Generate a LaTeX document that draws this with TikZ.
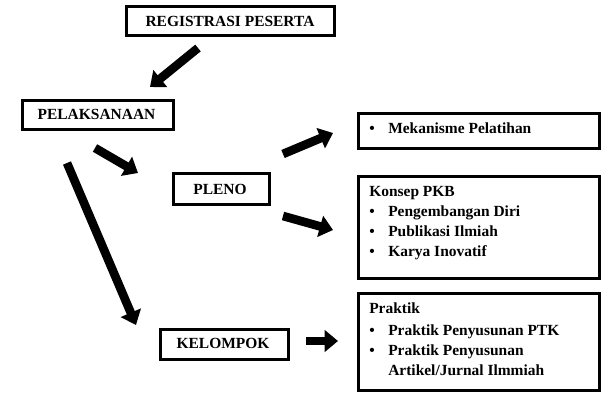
\documentclass[tikz,border=0pt]{standalone}
\usepackage{fontspec}
\setmainfont{Liberation Serif}
\usetikzlibrary{arrows.meta}
\begin{document}
\begin{tikzpicture}[x=0.75pt,y=-0.75pt,
  font=\fontsize{11.6}{14}\selectfont\bfseries,
  box/.style={draw,line width=2.2pt,inner sep=0pt,anchor=north west},
  txt/.style={anchor=base west,inner sep=0pt},
  blk/.style={line width=6.5pt,-{Triangle[width=16pt,length=10pt]}}]
\useasboundingbox (0,0) rectangle (610,402);
% boxes with labels
\node[box,minimum width=156pt,minimum height=21.75pt] (reg) at (125,5) {};
\node[anchor=base,inner sep=0pt] (regt) at (230,27) {REGISTRASI PESERTA};
\node[box,minimum width=113.25pt,minimum height=21.75pt] (pel) at (21,99) {};
\node[anchor=base,inner sep=0pt] (pelt) at (96.5,120) {PELAKSANAAN};
\node[box,minimum width=72pt,minimum height=23.25pt] (ple) at (172,172) {};
\node[anchor=base,inner sep=0pt] (plet) at (220,195) {PLENO};
\node[box,minimum width=96pt,minimum height=22.5pt] (kel) at (159,328) {};
\node[anchor=base,inner sep=0pt] (kelt) at (223,349) {KELOMPOK};
% right boxes
\node[box,minimum width=180.75pt,minimum height=26.25pt] (mek) at (357,112) {};
\node[txt] (b1) at (369,134) {•};
\node[txt] (t1) at (388,134) {Mekanisme Pelatihan};
\node[box,minimum width=180.75pt,minimum height=76.5pt] (pkb) at (357,175) {};
\node[txt] (t2) at (369,197) {Konsep PKB};
\node[txt] (b2) at (369,217) {•};
\node[txt] (t3) at (388,217) {Pengembangan Diri};
\node[txt] (b3) at (369,237) {•};
\node[txt] (t4) at (388,237) {Publikasi Ilmiah};
\node[txt] (b4) at (369,257) {•};
\node[txt] (t5) at (388,257) {Karya Inovatif};
\node[box,minimum width=180.75pt,minimum height=72.75pt] (pra) at (357,292) {};
\node[txt] (t6) at (369,314) {Praktik};
\node[txt] (b5) at (369,335) {•};
\node[txt] (t7) at (388,335) {Praktik Penyusunan PTK};
\node[txt] (b6) at (369,355) {•};
\node[txt] (t8) at (388,355) {Praktik Penyusunan};
\node[txt] (t9) at (388,375) {Artikel/Jurnal Ilmmiah};
% arrow ends
\coordinate (a1s) at (198,48);  \coordinate (a1e) at (150,87);
\coordinate (a2s) at (95,148);  \coordinate (a2e) at (138,173);
\coordinate (a3s) at (67,163);  \coordinate (a3e) at (136,325);
\coordinate (a4s) at (283,154); \coordinate (a4e) at (333,133);
\coordinate (a5s) at (283,216); \coordinate (a5e) at (333,230);
\coordinate (a6s) at (306,341); \coordinate (a6e) at (338,341);
\draw[blk] (a1s) -- (a1e);
\draw[blk] (a2s) -- (a2e);
\draw[blk] (a3s) -- (a3e);
\draw[blk] (a4s) -- (a4e);
\draw[blk] (a5s) -- (a5e);
\draw[blk] (a6s) -- (a6e);
\end{tikzpicture}
\end{document}
